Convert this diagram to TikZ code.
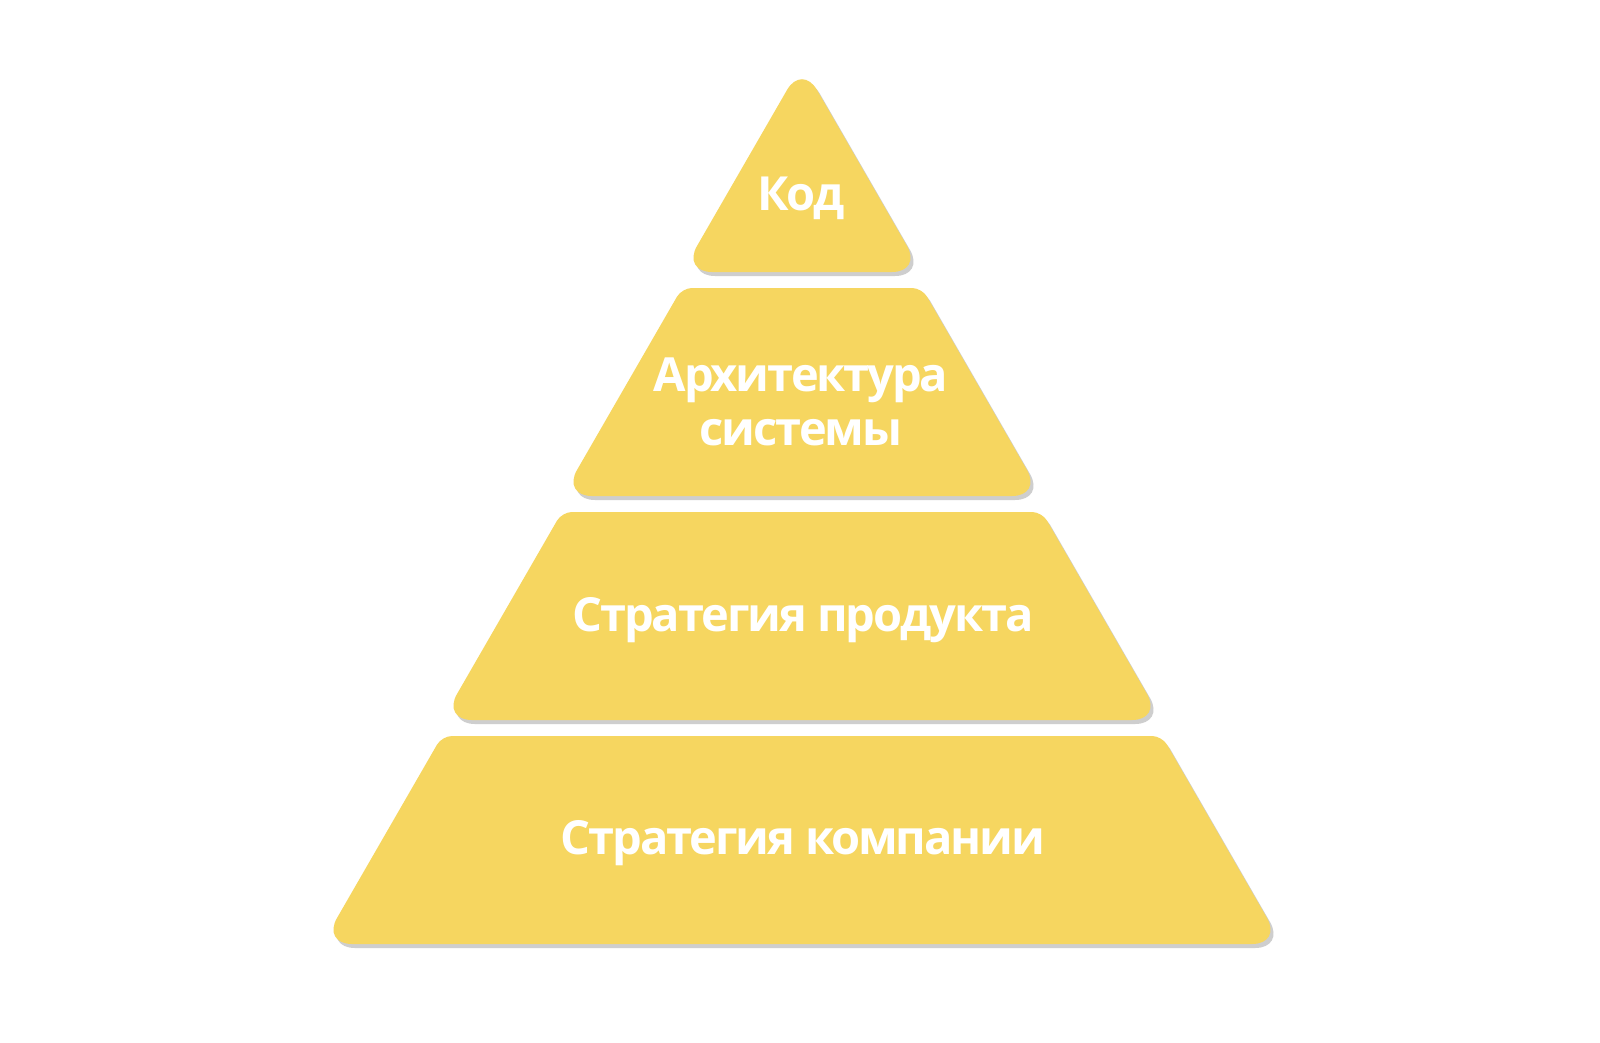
\documentclass[tikz,border=0pt]{standalone}
\usepackage{fontspec}
\setmainfont{Open Sans}[LetterSpace=-4.5]
\usepackage{tikz}
\usetikzlibrary{
  shadows,
}
\definecolor{pyramid yellow}{HTML}{F6D660}

\begin{document}
\begin{tikzpicture}[
  x=1pt, y=-1pt,
  layer/.style={
    fill=pyramid yellow,
    drop shadow={shadow xshift=3pt, shadow yshift=-4pt, opacity=0.35, fill=black!55},
  },
  layer label/.style={
    text=white,
    font=\fontsize{47}{53.3}\selectfont\bfseries,
    align=center,
    anchor=base,
    inner sep=0pt,
  },
  ]
  \fill [white] (0,0) rectangle (1600,1042);
  \useasboundingbox (0,0) rectangle (1600,1042);
  % acute corners get the long cut, obtuse ones the short cut
  \path [layer, rounded corners=30pt]
  (802,272) -- (922,272) -- (802,64) -- (682,272) -- cycle;
  \path [layer]
  (802,496) [rounded corners=30pt] -- (1042,496) -- (982,392)
  [rounded corners=10pt] -- (922,288) -- (682,288) -- (622,392)
  [rounded corners=30pt] -- (562,496) -- cycle;
  \path [layer]
  (802,720) [rounded corners=30pt] -- (1162,720) -- (1102,616)
  [rounded corners=10pt] -- (1042,512) -- (562,512) -- (502,616)
  [rounded corners=30pt] -- (442,720) -- cycle;
  \path [layer]
  (802,944) [rounded corners=30pt] -- (1282,944) -- (1222,840)
  [rounded corners=10pt] -- (1162,736) -- (442,736) -- (382,840)
  [rounded corners=30pt] -- (322,944) -- cycle;

  \node [layer label, name=node-code] at (801,210) {Код};
  \node [layer label, name=node-architecture] at (801,445) {Архитектура\\системы};
  \node [layer label, name=node-product] at (803,631) {Стратегия продукта};
  \node [layer label, name=node-company] at (803,854.3) {Стратегия компании};
\end{tikzpicture}
\end{document}
